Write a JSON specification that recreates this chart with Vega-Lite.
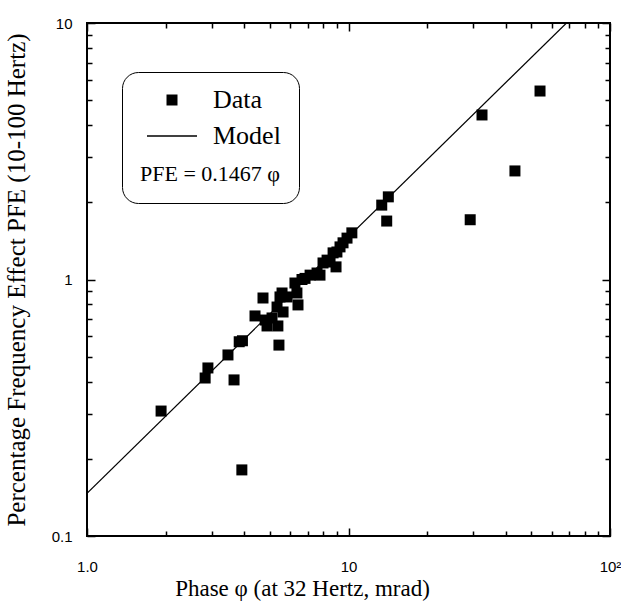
{
  "$schema": "https://vega.github.io/schema/vega-lite/v6.json",
  "width": 523,
  "height": 513,
  "autosize": {"type": "none"},
  "padding": {"left": 87, "top": 23, "right": 11, "bottom": 74},
  "background": "white",
  "config": {
    "view": {"stroke": "black", "strokeWidth": 2},
    "axis": {"domain": false, "ticks": false, "tickSize": 0, "gridColor": "black", "gridOpacity": 1, "gridWidth": 1.5, "labelColor": "black", "titleColor": "black", "titleFontWeight": "normal", "zindex": 1}
  },
  "datasets": {
    "points": [
      {"phase": 1.92, "pfe": 0.307, "series": "Data"},
      {"phase": 2.83, "pfe": 0.413, "series": "Data"},
      {"phase": 2.90, "pfe": 0.452, "series": "Data"},
      {"phase": 3.46, "pfe": 0.508, "series": "Data"},
      {"phase": 3.65, "pfe": 0.406, "series": "Data"},
      {"phase": 3.82, "pfe": 0.572, "series": "Data"},
      {"phase": 3.93, "pfe": 0.577, "series": "Data"},
      {"phase": 3.91, "pfe": 0.181, "series": "Data"},
      {"phase": 5.42, "pfe": 0.555, "series": "Data"},
      {"phase": 4.39, "pfe": 0.721, "series": "Data"},
      {"phase": 4.71, "pfe": 0.847, "series": "Data"},
      {"phase": 4.80, "pfe": 0.695, "series": "Data"},
      {"phase": 4.88, "pfe": 0.659, "series": "Data"},
      {"phase": 5.10, "pfe": 0.708, "series": "Data"},
      {"phase": 5.37, "pfe": 0.659, "series": "Data"},
      {"phase": 5.33, "pfe": 0.781, "series": "Data"},
      {"phase": 5.47, "pfe": 0.855, "series": "Data"},
      {"phase": 5.62, "pfe": 0.747, "series": "Data"},
      {"phase": 5.82, "pfe": 0.855, "series": "Data"},
      {"phase": 6.24, "pfe": 0.969, "series": "Data"},
      {"phase": 6.41, "pfe": 0.796, "series": "Data"},
      {"phase": 6.35, "pfe": 0.886, "series": "Data"},
      {"phase": 6.64, "pfe": 1.0, "series": "Data"},
      {"phase": 7.13, "pfe": 1.04, "series": "Data"},
      {"phase": 7.78, "pfe": 1.04, "series": "Data"},
      {"phase": 7.99, "pfe": 1.16, "series": "Data"},
      {"phase": 8.28, "pfe": 1.19, "series": "Data"},
      {"phase": 8.96, "pfe": 1.12, "series": "Data"},
      {"phase": 8.73, "pfe": 1.27, "series": "Data"},
      {"phase": 9.03, "pfe": 1.28, "series": "Data"},
      {"phase": 9.28, "pfe": 1.34, "series": "Data"},
      {"phase": 9.53, "pfe": 1.39, "series": "Data"},
      {"phase": 9.87, "pfe": 1.45, "series": "Data"},
      {"phase": 10.3, "pfe": 1.52, "series": "Data"},
      {"phase": 13.4, "pfe": 1.95, "series": "Data"},
      {"phase": 14.2, "pfe": 2.10, "series": "Data"},
      {"phase": 14.0, "pfe": 1.69, "series": "Data"},
      {"phase": 29.2, "pfe": 1.71, "series": "Data"},
      {"phase": 32.4, "pfe": 4.38, "series": "Data"},
      {"phase": 43.3, "pfe": 2.65, "series": "Data"},
      {"phase": 54.0, "pfe": 5.43, "series": "Data"},
      {"phase": 7.58, "pfe": 1.06, "series": "Data"},
      {"phase": 6.82, "pfe": 1.01, "series": "Data"},
      {"phase": 5.57, "pfe": 0.886, "series": "Data"},
      {"phase": 8.50, "pfe": 1.17, "series": "Data"}
    ],
    "model": [
      {"phase": 1, "pfe": 0.1467},
      {"phase": 68.17, "pfe": 10}
    ]
  },
  "layer": [
    {
      "data": {"name": "model"},
      "mark": {"type": "line", "color": "black", "strokeWidth": 1.2, "clip": true},
      "encoding": {
        "x": {
          "field": "phase", "type": "quantitative",
          "scale": {"type": "log", "domain": [1, 100]},
          "axis": {
            "orient": "bottom", "grid": true,
            "gridDash": {"condition": {"test": "datum.value == 1 || datum.value == 10 || datum.value == 100", "value": [8, 497]}, "value": [5, 503]},
            "values": [1, 2, 3, 4, 5, 6, 7, 8, 9, 10, 20, 30, 40, 50, 60, 70, 80, 90, 100],
            "labelExpr": "datum.value == 1 ? '1.0' : datum.value == 10 ? '10' : datum.value == 100 ? '10²' : ''",
            "labelFont": "Liberation Sans", "labelFontSize": 15, "labelPadding": 23,
            "labelFlush": false, "labelOverlap": false,
            "title": "Phase φ (at 32 Hertz, mrad)",
            "titleFont": "Liberation Serif", "titleFontSize": 23, "titlePadding": 3, "titleX": 215
          }
        },
        "y": {
          "field": "pfe", "type": "quantitative",
          "scale": {"type": "log", "domain": [0.1, 10]},
          "axis": {
            "orient": "left", "grid": true,
            "gridDash": {"condition": {"test": "datum.value == 0.1 || datum.value == 1 || datum.value == 10", "value": [8, 507]}, "value": [5, 513]},
            "values": [0.1, 0.2, 0.3, 0.4, 0.5, 0.6, 0.7, 0.8, 0.9, 1, 2, 3, 4, 5, 6, 7, 8, 9, 10],
            "labelExpr": "datum.value == 0.1 ? '0.1' : datum.value == 1 ? '1' : datum.value == 10 ? '10' : ''",
            "labelFont": "Liberation Sans", "labelFontSize": 15, "labelPadding": 15,
            "labelFlush": false, "labelOverlap": false,
            "title": "Percentage Frequency Effect PFE (10-100 Hertz)",
            "titleFont": "Liberation Serif", "titleFontSize": 25, "titlePadding": 22
          }
        }
      }
    },
    {
      "data": {"name": "points"},
      "mark": {"type": "point", "filled": true, "opacity": 1, "color": "black"},
      "encoding": {
        "x": {"field": "phase", "type": "quantitative", "scale": {"type": "log", "domain": [1, 100]}},
        "y": {"field": "pfe", "type": "quantitative", "scale": {"type": "log", "domain": [0.1, 10]}},
        "shape": {
          "field": "series", "type": "nominal",
          "scale": {"domain": ["Data", "Model"], "range": ["square", "M-1,-0.03H1V0.03H-1Z"]},
          "legend": {
            "title": "PFE = 0.1467 φ", "titleOrient": "bottom", "titleAnchor": "middle", "titleFont": "Liberation Serif", "titleFontSize": 22, "titleFontWeight": "normal", "titleColor": "black", "titlePadding": 15,
            "labelFont": "Liberation Serif", "labelFontSize": 26, "labelColor": "black", "labelOffset": 16,
            "orient": "none", "legendX": 35, "legendY": 49,
            "strokeColor": "black", "fillColor": "white", "cornerRadius": 16, "padding": 18,
            "clipHeight": 20, "rowPadding": 10, "symbolOffset": 7,
            "symbolFillColor": "black", "symbolStrokeColor": "black", "symbolStrokeWidth": 0
          }
        },
        "size": {
          "field": "series", "type": "ordinal",
          "scale": {"domain": ["Data", "Model"], "range": [121, 2500]},
          "legend": {
            "title": "PFE = 0.1467 φ", "titleOrient": "bottom", "titleAnchor": "middle", "titleFont": "Liberation Serif", "titleFontSize": 22, "titleFontWeight": "normal", "titleColor": "black", "titlePadding": 15,
            "labelFont": "Liberation Serif", "labelFontSize": 26, "labelColor": "black", "labelOffset": 16,
            "orient": "none", "legendX": 35, "legendY": 49,
            "strokeColor": "black", "fillColor": "white", "cornerRadius": 16, "padding": 18,
            "clipHeight": 20, "rowPadding": 10, "symbolOffset": 7,
            "symbolFillColor": "black", "symbolStrokeColor": "black", "symbolStrokeWidth": 0
          }
        }
      }
    }
  ]
}
